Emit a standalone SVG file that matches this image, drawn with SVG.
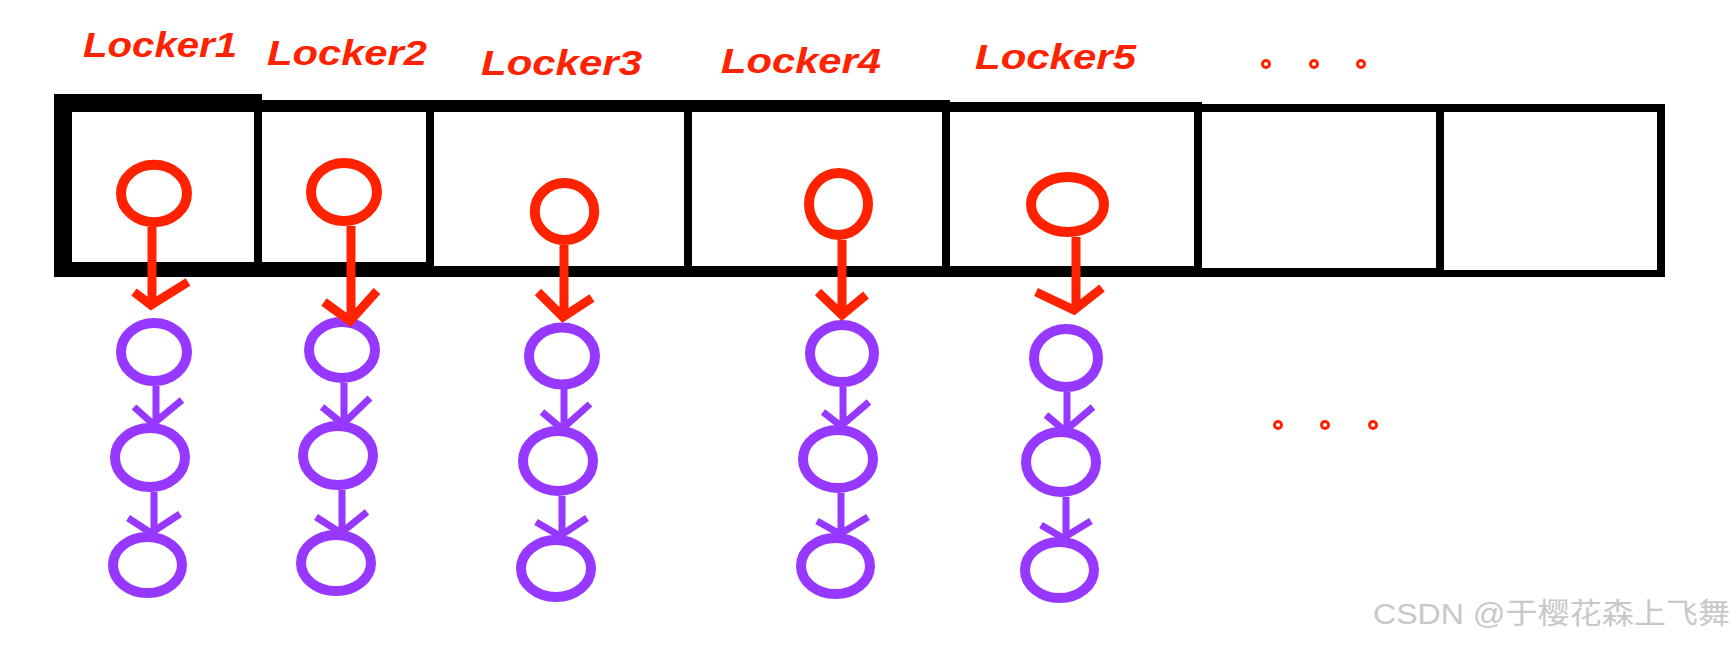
<svg xmlns="http://www.w3.org/2000/svg" width="1736" height="648" viewBox="0 0 1736 648">
<style>
.lbl{font-family:"Liberation Sans",Arial,sans-serif;font-weight:bold;font-style:italic;font-size:35px;fill:#FF2200}
.head{fill:none;stroke:#FF2200;stroke-width:10}
.node{fill:none;stroke:#9638FF;stroke-width:10}
.rarr{fill:none;stroke:#FF2200;stroke-width:9;stroke-linejoin:miter}
.parr{fill:none;stroke:#9638FF;stroke-width:7;stroke-linejoin:miter}
.dot{fill:none;stroke:#FF2200;stroke-width:3}
.wm{font-family:"Liberation Sans","Noto Sans CJK SC",sans-serif;font-size:29px;fill:#c8c8c8}
</style>
<rect width="1736" height="648" fill="#ffffff"/>
<g id="array" fill="#000">
<rect x="54" y="94" width="208" height="18"/>
<rect x="262" y="100" width="688" height="12"/>
<rect x="942" y="102" width="260" height="10"/>
<rect x="1202" y="104" width="463" height="8"/>
<rect x="54" y="262" width="208" height="15"/>
<rect x="262" y="262" width="172" height="15"/>
<rect x="434" y="266" width="768" height="11"/>
<rect x="1202" y="268" width="242" height="9"/>
<rect x="1444" y="270" width="221" height="7"/>
<rect x="54" y="94" width="18" height="183"/>
<rect x="254" y="100" width="8" height="170"/>
<rect x="426" y="100" width="8" height="170"/>
<rect x="684" y="100" width="8" height="170"/>
<rect x="942" y="100" width="8" height="170"/>
<rect x="1194" y="102" width="8" height="170"/>
<rect x="1436" y="104" width="8" height="170"/>
<rect x="1657" y="104" width="8" height="173"/>
</g>
<g id="labels">
<text class="lbl" x="83" y="57" textLength="154" lengthAdjust="spacingAndGlyphs">Locker1</text>
<text class="lbl" x="267" y="65" textLength="160" lengthAdjust="spacingAndGlyphs">Locker2</text>
<text class="lbl" x="481" y="75" textLength="161" lengthAdjust="spacingAndGlyphs">Locker3</text>
<text class="lbl" x="721" y="73" textLength="160" lengthAdjust="spacingAndGlyphs">Locker4</text>
<text class="lbl" x="975" y="69" textLength="161" lengthAdjust="spacingAndGlyphs">Locker5</text>
</g>
<g id="dots-top">
<circle class="dot" cx="1266" cy="64" r="3.5"/>
<circle class="dot" cx="1314" cy="64" r="3.5"/>
<circle class="dot" cx="1361" cy="64" r="3.5"/>
</g>
<g id="dots-mid">
<circle class="dot" cx="1278" cy="425" r="3.5"/>
<circle class="dot" cx="1325" cy="425" r="3.5"/>
<circle class="dot" cx="1373" cy="425" r="3.5"/>
</g>
<g id="head1"><ellipse class="head" cx="154" cy="193.5" rx="33" ry="28.7"/></g>
<g id="head2"><ellipse class="head" cx="344" cy="192" rx="33" ry="29"/></g>
<g id="head3"><ellipse class="head" cx="564.5" cy="211.5" rx="29.7" ry="28.5"/></g>
<g id="head4"><ellipse class="head" cx="838.5" cy="204" rx="29.5" ry="31"/></g>
<g id="head5"><ellipse class="head" cx="1067.5" cy="204.5" rx="36.5" ry="27.5"/></g>
<g id="n1a"><ellipse class="node" cx="154" cy="352" rx="33" ry="29"/></g>
<g id="n1b"><ellipse class="node" cx="150" cy="457.5" rx="35" ry="29.5"/></g>
<g id="n1c"><ellipse class="node" cx="147.5" cy="565" rx="34.5" ry="28"/></g>
<g id="n2a"><ellipse class="node" cx="342" cy="350" rx="33" ry="28"/></g>
<g id="n2b"><ellipse class="node" cx="338" cy="455.5" rx="35" ry="29.5"/></g>
<g id="n2c"><ellipse class="node" cx="336" cy="563" rx="35" ry="28"/></g>
<g id="n3a"><ellipse class="node" cx="562" cy="356" rx="33" ry="28.5"/></g>
<g id="n3b"><ellipse class="node" cx="558" cy="461" rx="35" ry="30"/></g>
<g id="n3c"><ellipse class="node" cx="556" cy="568.5" rx="35" ry="28.5"/></g>
<g id="n4a"><ellipse class="node" cx="842" cy="353.5" rx="32" ry="28.5"/></g>
<g id="n4b"><ellipse class="node" cx="838" cy="459" rx="35" ry="29"/></g>
<g id="n4c"><ellipse class="node" cx="835.5" cy="566" rx="34.5" ry="28"/></g>
<g id="n5a"><ellipse class="node" cx="1066" cy="358" rx="32" ry="29"/></g>
<g id="n5b"><ellipse class="node" cx="1061" cy="462" rx="35" ry="30"/></g>
<g id="n5c"><ellipse class="node" cx="1059.5" cy="570" rx="34.5" ry="28"/></g>
<g id="connectors">
<path class="rarr" d="M152,227 V305 M134,292 L151,305 L188,282"/>
<path class="rarr" d="M351,226 V321 M324,302 L350,321 L377,291"/>
<path class="rarr" d="M564,245 V317 M538,292 L563,317 L592,298"/>
<path class="rarr" d="M842,240 V315 M818,292 L842,315 L866,295"/>
<path class="rarr" d="M1076,237 V310 M1036,292 L1074,310 L1102,288"/>
<path class="parr" d="M156,386 V425 M134,407 L153,424 L182,400"/>
<path class="parr" d="M154,492 V533 M128,518 L151,533 L180,514"/>
<path class="parr" d="M344,383 V424 M322,407 L343,424 L370,398"/>
<path class="parr" d="M342,490 V533 M316,517 L341,533 L367,512"/>
<path class="parr" d="M564,389 V429 M542,412 L562,429 L590,404"/>
<path class="parr" d="M562,496 V536 M536,522 L560,536 L587,518"/>
<path class="parr" d="M843,387 V426 M823,412 L841,426 L869,402"/>
<path class="parr" d="M841,493 V534 M817,521 L840,534 L868,517"/>
<path class="parr" d="M1067,392 V431 M1046,415 L1065,431 L1093,407"/>
<path class="parr" d="M1066,497 V538 M1041,525 L1063,538 L1091,521"/>
</g>
<text class="wm" x="1373" y="624" textLength="357" lengthAdjust="spacingAndGlyphs">CSDN @于樱花森上飞舞</text>
</svg>
